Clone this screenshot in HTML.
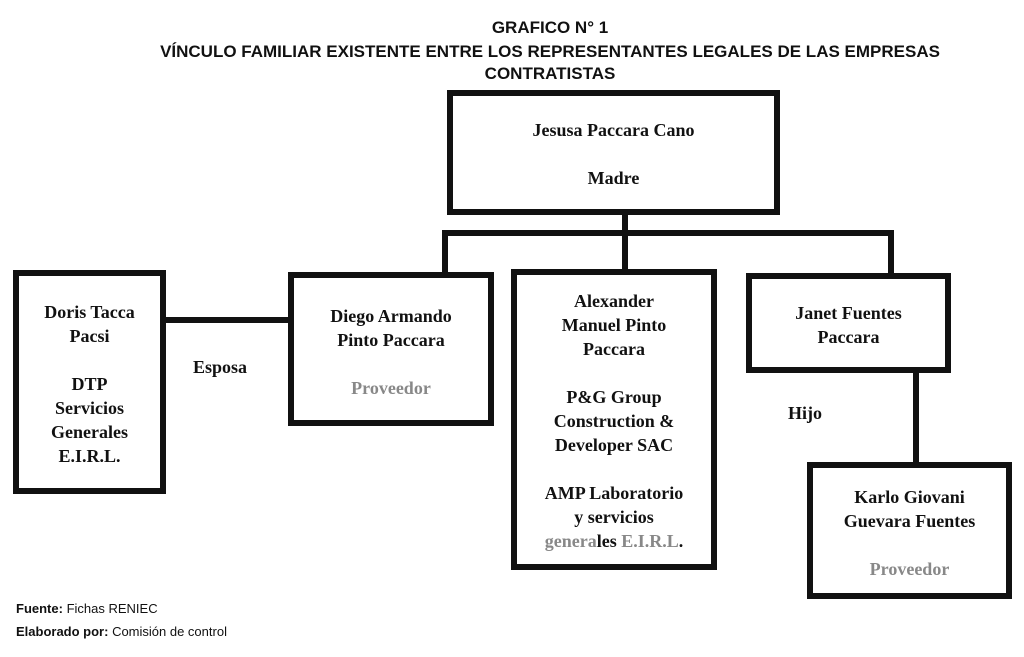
<!DOCTYPE html>
<html><head><meta charset="utf-8"><style>
body{margin:0;width:1024px;height:657px;background:#fff;position:relative;overflow:hidden;font-family:"Liberation Serif",serif;}
.b{position:absolute;border:6px solid #111;box-sizing:border-box;}
.l{position:absolute;background:#111;}
.t{position:absolute;font-weight:bold;font-size:18px;color:#111;text-align:center;line-height:24px;white-space:nowrap;}
.g{color:#888;}
.h{position:absolute;font-family:"Liberation Sans",sans-serif;font-weight:bold;font-size:17px;color:#111;white-space:nowrap;}
.f{position:absolute;font-family:"Liberation Sans",sans-serif;font-size:13px;color:#111;white-space:nowrap;}
</style></head><body>
<div class="h" style="left:0;width:1100px;top:18px;text-align:center;">GRAFICO N° 1</div>
<div class="h" style="left:0;width:1100px;top:42px;text-align:center;">VÍNCULO FAMILIAR EXISTENTE ENTRE LOS REPRESENTANTES LEGALES DE LAS EMPRESAS</div>
<div class="h" style="left:0;width:1100px;top:64px;text-align:center;">CONTRATISTAS</div>

<div class="b" style="left:447px;top:90px;width:333px;height:125px"></div>
<div class="b" style="left:13px;top:270px;width:153px;height:224px"></div>
<div class="b" style="left:288px;top:272px;width:206px;height:154px"></div>
<div class="b" style="left:511px;top:269px;width:206px;height:301px"></div>
<div class="b" style="left:746px;top:273px;width:205px;height:100px"></div>
<div class="b" style="left:807px;top:462px;width:205px;height:137px"></div>

<div class="l" style="left:622px;top:214px;width:6px;height:56px"></div>
<div class="l" style="left:442px;top:230px;width:452px;height:6px"></div>
<div class="l" style="left:442px;top:230px;width:6px;height:43px"></div>
<div class="l" style="left:888px;top:230px;width:6px;height:44px"></div>
<div class="l" style="left:913px;top:372px;width:6px;height:91px"></div>
<div class="l" style="left:165px;top:317px;width:124px;height:6px"></div>

<div class="t" style="left:447px;width:333px;top:118px">Jesusa Paccara Cano</div>
<div class="t" style="left:447px;width:333px;top:166px">Madre</div>
<div class="t" style="left:13px;width:153px;top:300px">Doris Tacca<br>Pacsi<br><br>DTP<br>Servicios<br>Generales<br>E.I.R.L.</div>
<div class="t" style="left:288px;width:206px;top:304px">Diego Armando<br>Pinto Paccara<br><br><span class="g">Proveedor</span></div>
<div class="t" style="left:511px;width:206px;top:289px">Alexander<br>Manuel Pinto<br>Paccara<br><br>P&amp;G Group<br>Construction &amp;<br>Developer SAC<br><br>AMP Laboratorio<br>y servicios<br><span class="g">genera</span>les <span class="g">E.I.R.L</span>.</div>
<div class="t" style="left:746px;width:205px;top:301px">Janet Fuentes<br>Paccara</div>
<div class="t" style="left:807px;width:205px;top:485px">Karlo Giovani<br>Guevara Fuentes<br><br><span class="g">Proveedor</span></div>
<div class="t" style="left:193px;top:355px">Esposa</div>
<div class="t" style="left:788px;top:401px">Hijo</div>

<div class="f" style="left:16px;top:601px"><b>Fuente:</b> Fichas RENIEC</div>
<div class="f" style="left:16px;top:624px"><b>Elaborado por:</b> Comisión de control</div>
</body></html>
